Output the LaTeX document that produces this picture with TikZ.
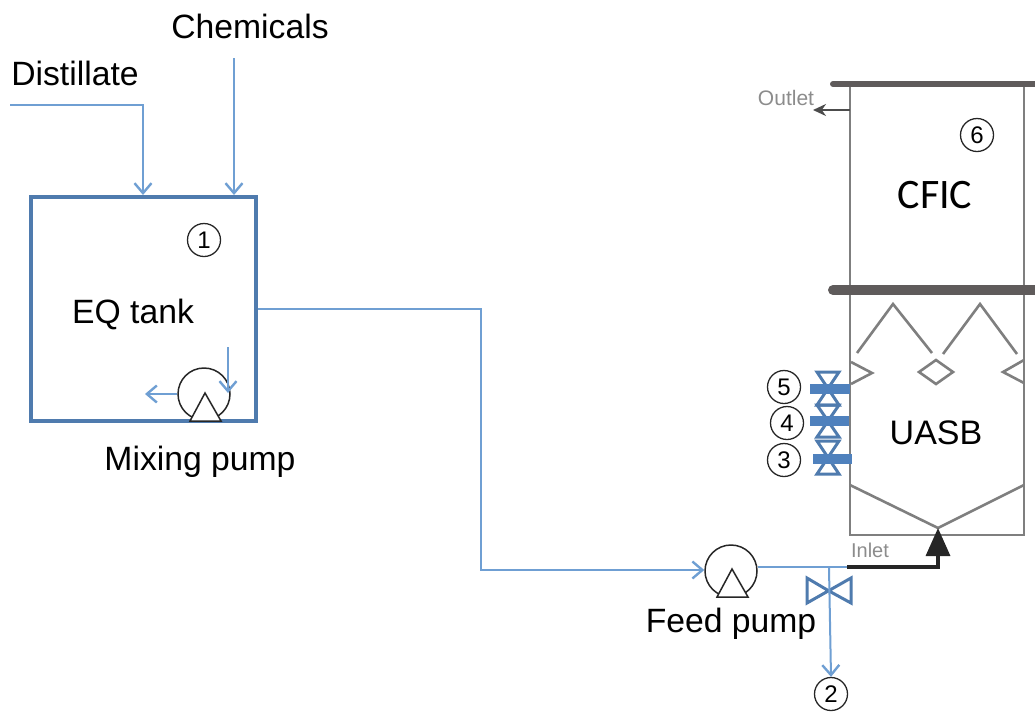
\documentclass[tikz,border=0pt]{standalone}
\usepackage{fontspec}
\setmainfont{Liberation Sans}
\newfontfamily\carlitofont{Carlito}
\usetikzlibrary{arrows.meta,calc}
\definecolor{pipeblue}{HTML}{6F9FD3}
\definecolor{tankblue}{HTML}{4F7BAE}
\definecolor{valveblue}{HTML}{4F81BD}
\definecolor{reactgrey}{HTML}{7F7F7F}
\definecolor{bargrey}{HTML}{5F5B5B}
\tikzset{
  pipe/.style={draw=pipeblue,line width=2pt},
  flow/.style={pipe,-{Straight Barb[length=10pt,width=17pt,line width=2.4pt]}},
  wall/.style={draw=reactgrey,line width=2.6pt},
  plate/.style={draw=bargrey,line width=#1,line cap=round},
  pumpc/.style={circle,draw=black!85,line width=1.5pt,minimum size=52pt,inner sep=0pt,fill=white},
  pumpt/.style={draw=black!85,line width=1.5pt,fill=white,line join=miter},
  num/.style={circle,draw=black!85,line width=1.3pt,minimum size=33pt,inner sep=0pt,font=\fontsize{24}{24}\selectfont},
  lab/.style={inner sep=0pt,font=\fontsize{33.7}{33.7}\selectfont,text=black},
  small/.style={inner sep=0pt,font=\fontsize{#1}{#1}\selectfont,text=black!45},
  bow/.style={draw=tankblue,line width=3pt,line join=miter},
  vbar/.style={draw=valveblue,line width=10pt}
}
\begin{document}
\begin{tikzpicture}[x=1pt,y=-1pt]
\useasboundingbox (0,0) rectangle (1035,713);
% EQ tank
\node[draw=tankblue,line width=3.4pt,minimum width=225pt,minimum height=224pt,inner sep=0pt] (eq) at (143.5,309) {};
\node[lab] (eqt) at (133,314) {EQ tank};
\node[num] (n1) at (204,240) {1};
\node[lab] (dist) at (75,73) {Distillate};
\node[lab] (chem) at (250,26) {Chemicals};
\node[lab] (mixl) at (200,462) {Mixing pump};
\node[lab] (feedl) at (731,624) {Feed pump};
% inputs
\coordinate (dstart) at (10,105);
\coordinate (dcorner) at (143,105);
\coordinate (dend) at (143,195);
\coordinate (cstart) at (234,58);
\coordinate (cend) at (234,195);
\draw[flow] (dstart) -- (dcorner) -- (dend);
\draw[flow] (cstart) -- (cend);
% mixing pump
\node[pumpc] (mp) at (204,394) {};
\draw[pumpt] (205,393) -- (221,421) -- (190,421) -- cycle;
\coordinate (mout) at (145,394);
\coordinate (mdowns) at (228,347);
\coordinate (mdowne) at (228,393);
\draw[flow] (mp.west) -- (mout);
\draw[flow] (mdowns) -- (mdowne);
% feed pump
\node[pumpc] (fp) at (731,571) {};
\draw[pumpt] (732,569) -- (748,597) -- (717,597) -- cycle;
\coordinate (c1) at (481,309);
\coordinate (c2) at (481,570);
\draw[flow] (eq.east |- c1) -- (c1) -- (c2) -- (fp.west |- c2);
% reactor
\coordinate (tl) at (850,84);
\coordinate (tr) at (1024,84);
\coordinate (bl) at (850,535);
\coordinate (br) at (1024,535);
\coordinate (hub) at (938,528);
\draw[wall] (tl) -- (bl) -- (br) -- (tr);
\draw[plate=6pt] (833,84) -- (1035,84);
\draw[plate=10pt] (833,290) -- (1035,290);
\draw[wall] (857,353) -- (893,304) -- (932,353);
\draw[wall] (943,354) -- (980,304) -- (1017,354);
\draw[wall] (919,372) -- (936,360) -- (953,372) -- (936,384) -- cycle;
\draw[wall] (851,362) -- (872,373) -- (851,384);
\draw[wall] (1024,360) -- (1003,372) -- (1024,383);
\draw[wall] (850,485) -- (hub) -- (1024,485);
\node[lab,font=\fontsize{34}{34}\selectfont] (uasb) at (936,433) {UASB};
\node[lab,font=\carlitofont\fontsize{42}{42}\selectfont] (cfic) at (935,195) {CFIC};
\node[num] (n6) at (977,135) {6};
% outlet / inlet
\node[small=21] (outt) at (786,98) {Outlet};
\node[small=20] (inl) at (870,550) {Inlet};
\coordinate (oute) at (813,110);
\draw[draw=black!70,line width=2pt,-{Stealth[length=13pt,width=12pt]}] (tl |- oute) -- (oute);
\coordinate (ins) at (847,567);
\coordinate (inc) at (938,567);
\draw[draw=black!85,line width=3.4pt,-{Stealth[length=28pt,width=24pt,inset=0pt]}] (ins) -- (inc) -- (hub);
\coordinate (j) at (829,568);
\draw[pipe] (fp.east |- ins) -- (ins);
% sample valve
\coordinate (v2) at (829,591);
\draw[bow] (v2) -- (807,578) -- (807,603) -- (851,578) -- (851,603) -- cycle;
\node[num] (n2) at (831,694) {2};
\draw[flow] (j) -- (n2.north);
% stacked valves
\foreach \yc/\xa/\xb/\up/\dn in {389/810/850/372/405, 421/810/849/405/437, 459/813/852/441/474}{
  \draw[bow] (817,\up) -- (839,\up) -- (817,\dn) -- (839,\dn) -- cycle;
  \draw[vbar] (\xa,\yc) -- (\xb,\yc);
}
\node[num] (n5) at (784,387) {5};
\node[num] (n4) at (787,423) {4};
\node[num] (n3) at (784,460) {3};
\end{tikzpicture}
\end{document}
